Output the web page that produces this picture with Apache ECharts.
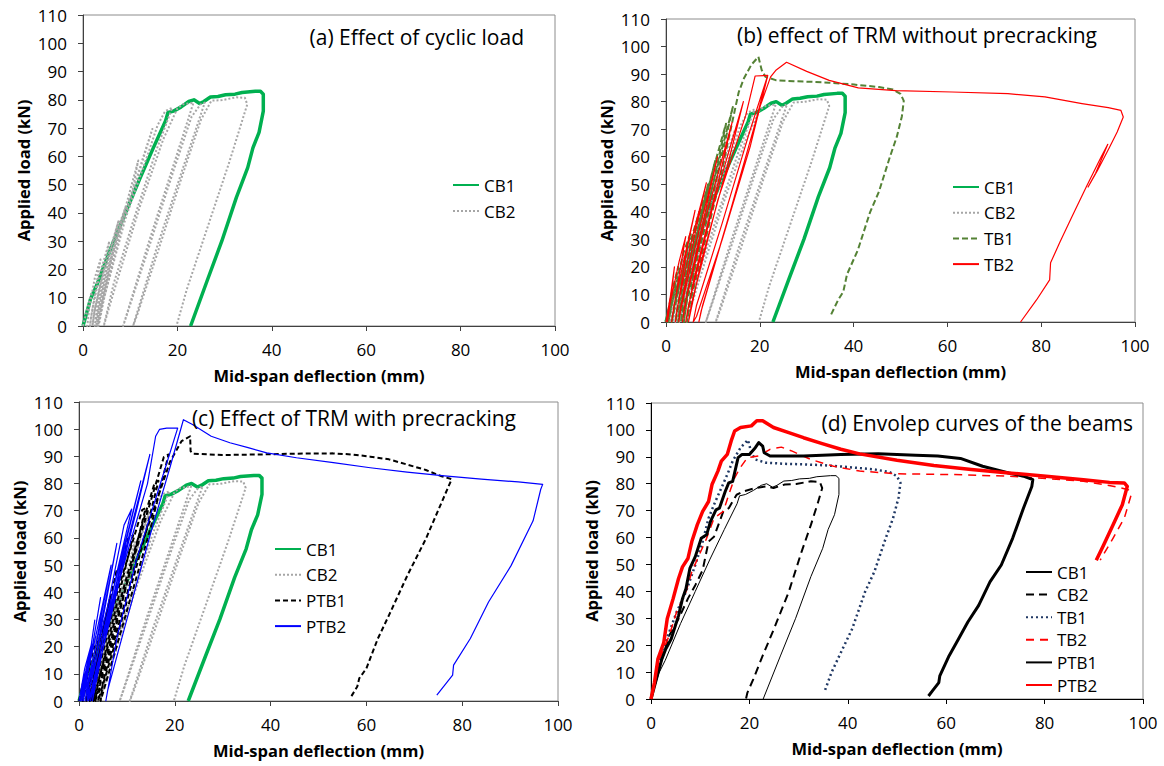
<!DOCTYPE html>
<html><head><meta charset="utf-8">
<script src="https://cdn.jsdelivr.net/npm/echarts@6/dist/echarts.min.js"></script>
<style>html,body{margin:0;padding:0;background:#fff}#c{width:1164px;height:766px}</style>
</head><body><div id="c"></div>
<script>
// ---------- data (x = mid-span deflection mm, y = applied load kN) ----------
const panelTitles = ['(a) Effect of cyclic load', '(b) effect of TRM without precracking', '(c) Effect of TRM with precracking', '(d) Envolep curves of the beams'];
const xTickValues = [0, 20, 40, 60, 80, 100];
const yTickValues = [0, 10, 20, 30, 40, 50, 60, 70, 80, 90, 100, 110];
const xAxisName = 'Mid-span deflection (mm)';
const yAxisName = 'Applied load (kN)';
const legendA = ['CB1', 'CB2'];
const legendB = ['CB1', 'CB2', 'TB1', 'TB2'];
const legendC = ['CB1', 'CB2', 'PTB1', 'PTB2'];
const legendD = ['CB1', 'CB2', 'TB1', 'TB2', 'PTB1', 'PTB2'];

const CB1 = [[0,0],[1.6,9.6],[2.9,14.4],[6,28],[9,40],[12,52],[14.9,63],[17.5,72.6],[18,75.5],[19.2,76],[20.8,77.5],[22.4,79.4],[23.5,80],[24.7,78.7],[25.6,79.4],[27,81],[28.6,81.2],[30.2,81.8],[32.2,82],[33.7,82.6],[36.5,83],[37.6,83],[38.2,82],[38.2,76],[37.3,68.5],[36,63],[34.9,56],[32.5,45.5],[29.4,30],[26.3,16],[22.8,0]];

const CB2 = [[0,0],[1.8,12],[1.2,5],[0.9,0],
[1.3,6],[2.5,17],[3.7,23.5],[2.8,14],[1.6,2],[1.5,0],
[1.9,5],[3.5,18],[5.6,30],[4.2,19],[2.4,5],[2,0],
[2.5,6],[4.5,20],[7.5,37],[5.8,26],[3.6,10],[2.5,0],
[3,7],[6,28],[9,42],[7,31],[4.2,13],[2.8,0],
[3.3,6],[7,30],[10.5,48],[11.7,58.5],[9.5,45],[6,24],[3.2,1],[3,0],
[3.6,6],[8,34],[12.8,60],[14.7,69.7],[12,55],[8,34],[4.5,10],[3.3,0],
[4,7],[9,38],[14,62],[15.8,71],[17.4,76],[18.9,77.2],[15.5,62],[11,39],[6.5,15],[4.4,0],
[6.5,12],[12,42],[17,66],[20,77],[21.2,78.4],[23.4,79],[19,56],[14,30],[8.5,0],
[9.5,5],[14,28],[19,54],[23,74],[24.9,78.4],[25.8,79],[21,55],[15.5,27],[10.6,0],
[11.5,4],[16,27],[21,53],[25,73],[27.2,79.7],[29.5,79.9],[32.5,80.9],[34.3,80.7],[34.8,78.4],[31,58],[26,33],[22,13],[19.8,0]];

const TB1 = [[0,0],[1.4,12],[2.6,20],[1.5,9],[0.5,0],
[1,5],[3.7,25],[5.2,32],[3.5,18],[1.2,0],
[1.8,6],[5,28],[7.1,40],[5.2,26],[2,0],
[2.6,7],[6.5,35],[9,50],[6.8,34],[3,6],[2.6,0],
[3.2,6],[7.5,38],[10.5,58.5],[8,42],[4,14],[3.2,0],
[3.8,6],[9,42],[12.8,72],[10,55],[5.5,22],[3.8,0],
[4.5,8],[10,46],[14.3,78.4],[11.5,60],[6.5,26],[4.5,0],
[5,6],[11,48],[15.5,83.4],[16.6,88.4],[18.2,93.4],[19.7,96.3],[20.4,91.5],[21.2,89],[23.4,87.8],[27.2,87.4],[31,87.2],[34.8,86.9],[40.1,86.2],[45.4,85.3],[48.4,84.4],[50,82.8],[50.7,80.3],[50.3,74.7],[49.2,67.2],[47.7,59.7],[45.4,47.3],[43.5,39.8],[40.9,26.1],[38.6,17.3],[37.8,11],[36.7,8],[35,2]];

const TB2 = [[0,0],[1,10],[1.8,20],[1,8],[0.3,0],
[0.8,6],[2.8,22],[4.2,31],[2.8,17],[1.2,0],
[1.7,6],[4,24],[6.2,40.5],[4.3,25],[2,0],
[2.4,5],[5.5,30],[8.6,50.5],[6.3,33],[3,4],[2.7,0],
[3.2,5],[7,33],[11,60],[8.5,41],[4.5,10],[3.5,0],
[4,6],[8.5,38],[14.1,72.5],[11,50],[6,16],[4.2,0],
[4.8,6],[10,42],[16.5,80],[13,56],[7.5,22],[4.8,0],
[5.5,7],[11,44],[17,75],[19,89.3],[21.7,89.5],[18,64],[12,30],[6.5,2],[5.8,0],
[6.5,6],[12,36],[18,70],[21.5,88.5],[19,72],[13,36],[7.5,4],[7,0],
[7.8,6],[14,42],[20,78],[22.3,89],[23.5,91.5],[25.7,94.3],[30,91],[34.8,87.7],[41,85],[49,84],[61,83.5],[72.9,82.9],[80.8,81.7],[88.7,79.3],[94.3,77.8],[97,76.8],[97.5,74.4],[96.2,69],[94.6,63.5],[92,55],[90,49],[91.6,54],[94.2,64.5],[92.8,60],[89.6,49],[86.5,38],[84,29],[82,21.5],[81.8,15.3],[79,8],[75.6,0]];

const PTB1 = [[0,0],[1,8],[2.2,15],[1.5,6],[0.8,0],
[1.2,5],[3,19],[4.1,22.3],[3,12],[1.5,0],
[2,6],[4.5,25],[5.6,31],[6.4,37.3],[4.8,24],[2.2,0],
[2.6,5],[5.5,29],[7.9,48.5],[6,33],[3.3,8],[2.6,0],
[3,5],[7,36],[10.2,59.7],[11.3,61],[9,44],[5,14],[3,0],
[3.4,6],[8,40],[13.2,70.3],[13.9,70.9],[11,50],[6.5,19],[3.4,0],
[4,7],[10,46],[15.8,80.3],[16.6,81],[13.5,59],[8,24],[4,0],
[4.5,8],[11,50],[17.7,89.7],[18.7,90.7],[15,64],[9,27],[4.5,0],
[5,7],[12,52],[19,88],[21.4,95.6],[23.2,97.4],[23.3,91.9],[23.7,91],[29.9,90.5],[37.6,90.7],[45.4,91],[53,91.1],[57,90.7],[60.8,89.9],[64.7,88.9],[68.5,87],[72.4,85],[75.5,82.8],[77.8,81.6],[76.3,75.5],[72.4,59.6],[68.5,46],[64.7,31.5],[62.4,23],[60,12],[58.5,8.3],[58.1,5.3],[56.6,1]];

const PTB2 = [[0,0],[1.2,12],[2.6,21],[1.4,8],[0.3,0],
[0.8,6],[2.5,20],[3.3,29.8],[2,14],[0.6,0],
[1,6],[3,22],[4.5,38],[2.8,20],[0.9,0],
[1.3,6],[4,28],[6.7,50],[4.5,30],[1.3,0],
[1.7,6],[5,32],[7.9,58],[5.5,35],[1.7,0],
[2,6],[6,35],[9.4,64.7],[11,70.6],[8,48],[3.5,10],[2,0],
[2.3,5],[7,40],[12.9,81],[10,60],[5,22],[2.4,0],
[2.8,6],[8,44],[14.8,90.7],[12,70],[6,28],[2.8,0],
[3.2,6],[9,48],[14.3,80],[16,97.4],[16.8,99.9],[18.3,100.4],[20.6,100.4],[17,80],[12,52],[8,24],[5.6,0],
[6,4],[10,30],[15,62],[19,86],[21.4,101],[21.8,103.5],[23.7,101.7],[27.6,97.4],[31.5,95],[35.3,93.2],[39.2,91.3],[45.4,89.5],[53.1,87.7],[60.8,85.8],[68.5,84.2],[76.3,82.8],[84,81.6],[91.7,80.6],[96.8,79.7],[96.4,77.9],[94.8,66.3],[90.2,49.8],[85.5,36.4],[81.7,23],[78.2,13.2],[78,9.5],[74.7,2.2]];

// envelope curves for panel (d)
const envCB2 = [[0,0],[1.8,12.3],[3.7,23.6],[5.6,29.8],[7.5,37.3],[9,42.3],[10.5,47.9],[11.7,58.5],[12.8,60.3],[14.7,69.7],[15.8,70.9],[17.4,75.9],[18.9,77.2],[21.2,78.4],[23.4,79],[24.9,78.4],[27.2,79.7],[29.5,79.9],[32.5,80.9],[34.3,80.7],[34.8,78.4],[34,73.4],[32.5,64.7],[30.6,54.7],[28,39.8],[25,26.1],[22.7,16.1],[20.8,7.4],[19.6,2.4],[19.3,0]];
const envTB1 = [[0,0],[0.7,4.9],[1.4,12.3],[2.6,19.8],[3.7,24.8],[5.2,32.3],[7.1,39.8],[9,49.8],[10.5,58.5],[11.7,67.2],[12.8,72.2],[14.3,78.4],[15.5,83.4],[16.6,88.4],[18.2,93.4],[19.7,96.3],[20.4,91.5],[21.2,89],[23.4,87.8],[27.2,87.4],[31,87.2],[34.8,86.9],[40.1,86.2],[45.4,85.3],[48.4,84.4],[50,82.8],[50.7,80.3],[50.3,74.7],[49.2,67.2],[47.7,59.7],[45.4,47.3],[43.5,39.8],[40.9,26.1],[38.6,17.3],[36.7,9.9],[35.2,2.4]];
const envTB2 = [[0,0],[1.1,7.4],[1.8,14.8],[3.7,23.6],[5.2,32.3],[7.1,39.8],[8.3,47.3],[9.8,53.5],[11.3,59.7],[12.8,67.2],[14.7,69.7],[15.8,75.9],[17,82.2],[18.1,85.9],[19.6,89.7],[21.9,90.3],[24.2,92.8],[26.5,93.6],[28.7,92.1],[32.5,89],[37.1,86.5],[42.4,84.7],[50,83.7],[61.3,83.4],[72.7,82.8],[80.3,81.9],[87.9,80.9],[93.9,79.1],[97,77.8],[97.6,75.9],[96.2,67.2],[93.9,59.7],[91.3,51.6]];
const envPTB1 = [[0,0],[1.1,7.4],[2.2,14.8],[3,18.6],[4.1,22.3],[5.6,31],[6.4,37.3],[7.1,41],[7.9,48.5],[9,52.9],[10.2,59.7],[11.3,61],[12.1,66],[13.2,70.3],[13.9,70.9],[15.1,77.2],[15.8,80.3],[16.6,80.9],[17.7,89.7],[18.5,90.9],[20,90.9],[21.2,93.4],[21.9,95.3],[22.7,94],[23,91.5],[24.2,90.3],[31,90.3],[38.6,90.9],[46.2,91.1],[53.8,90.6],[58.3,90.3],[62.9,89.4],[67.4,86.5],[72.7,84],[75.7,82.8],[77.6,81.5],[77.4,79],[75.7,70.9],[73.5,59.7],[71.2,49.8],[68.9,43.5],[66.6,34.8],[64.4,28.6],[62.5,22.3],[60.6,16.1],[58.7,8.6],[58.5,6.1],[57.2,3],[56.4,1.1]];
const envPTB2 = [[0,0],[0.7,6.1],[1.4,14.8],[2.6,21],[3.3,29.8],[4.5,37.3],[5.6,44.8],[6.4,49.1],[7.5,52.2],[8.3,58.5],[9.4,64.7],[10.5,69.7],[11.7,73.4],[12.4,79.7],[13.6,84.7],[14.3,88.4],[15.5,90.9],[16.3,95.9],[17,99.6],[18.2,100.9],[20.4,101.5],[21.5,103.4],[22.7,103.4],[24.9,100.9],[28,99],[31,97.1],[34.8,94.9],[38.6,92.8],[42.4,91.1],[50,88.7],[57.5,86.8],[65.1,85.3],[72.7,84],[80.3,82.8],[87.9,81.5],[93.2,80.5],[96.2,80.3],[96.8,79],[95.8,72.2],[93.9,64.7],[92,57.2],[90.5,51.6]];

// ---------- styles ----------
const FONT = 'Open Sans';
const st = {
  CB1: {color:'#00b050', width:3.5, type:'solid'},
  CB2: {color:'#a6a6a6', width:2, type:[2,2]},
  TB1: {color:'#548235', width:2, type:[6,3]},
  TB2: {color:'#ff0000', width:1.2, type:'solid'},
  PTB1:{color:'#000000', width:2, type:[5,3]},
  PTB2:{color:'#0000ff', width:1.2, type:'solid'},
  dCB1:{color:'#000000', width:1, type:'solid'},
  dCB2:{color:'#000000', width:2, type:[8,5]},
  dTB1:{color:'#203864', width:2.5, type:[2,3]},
  dTB2:{color:'#ff0000', width:1.5, type:[8,6]},
  dPTB1:{color:'#000000', width:3, type:'solid'},
  dPTB2:{color:'#ff0000', width:3.5, type:'solid'}
};

const panels = [
  {key:'a', grid:{left:83, top:15, width:472, height:311}, axisColor:'#404040', title:{right:1164-524, y:37},
   legend:{left:452, top:176, gap:8}, names:legendA, data:[CB1, CB2], styles:[st.CB1, st.CB2]},
  {key:'b', grid:{left:666, top:19, width:469, height:303}, axisColor:'#404040', title:{right:1164-1097, y:35},
   legend:{left:952, top:178, gap:7.7}, names:legendB, data:[CB1, CB2, TB1, TB2], styles:[st.CB1, st.CB2, st.TB1, st.TB2]},
  {key:'c', grid:{left:79, top:402, width:479, height:299}, axisColor:'#404040', title:{right:1164-516, y:418},
   legend:{left:274, top:540, gap:7.7}, names:legendC, data:[CB1, CB2, PTB1, PTB2], styles:[st.CB1, st.CB2, st.PTB1, st.PTB2]},
  {key:'d', grid:{left:651, top:403, width:492, height:296}, axisColor:'#000000', title:{right:1164-1133, y:423},
   legend:{left:1025, top:563, gap:4.6}, names:legendD, data:[CB1, envCB2, envTB1, envTB2, envPTB1, envPTB2],
   styles:[st.dCB1, st.dCB2, st.dTB1, st.dTB2, st.dPTB1, st.dPTB2]}
];

const option = {
  backgroundColor:'#ffffff',
  animation:false,
  textStyle:{fontFamily:FONT},
  title: panels.map((p,i)=>({text:panelTitles[i], right:p.title.right, top:p.title.y-14, padding:0,
     textStyle:{fontFamily:FONT, fontSize:21, fontWeight:'normal', color:'#000', lineHeight:28}})),
  grid: panels.map(p=>Object.assign({show:true, borderColor:'#8c8c8c', borderWidth:1, containLabel:false}, p.grid)),
  xAxis: panels.map((p,i)=>({type:'value', gridIndex:i, min:0, max:100, interval:20,
     name:xAxisName, nameLocation:'middle', nameGap:41,
     nameTextStyle:{fontFamily:FONT, fontSize:16.5, fontWeight:'bold', color:'#000'},
     axisLine:{show:true, onZero:false, lineStyle:{color:p.axisColor, width:1}},
     axisTick:{show:true, inside:false, length:5, lineStyle:{color:p.axisColor}},
     axisLabel:{fontFamily:FONT, fontSize:17, color:'#000', margin:15,
        formatter:v=>xTickValues.indexOf(v)>=0?String(v):''},
     splitLine:{show:false}})),
  yAxis: panels.map((p,i)=>({type:'value', gridIndex:i, min:0, max:110, interval:10,
     name:yAxisName, nameLocation:'middle', nameGap:51,
     nameTextStyle:{fontFamily:FONT, fontSize:16.5, fontWeight:'bold', color:'#000'},
     axisLine:{show:true, onZero:false, lineStyle:{color:p.axisColor, width:1}},
     axisTick:{show:true, inside:false, length:5, lineStyle:{color:p.axisColor}},
     axisLabel:{fontFamily:FONT, fontSize:17, color:'#000', margin:16,
        formatter:v=>yTickValues.indexOf(v)>=0?String(v):''},
     splitLine:{show:false}})),
  legend: panels.map(p=>({orient:'vertical', left:p.legend.left, top:p.legend.top, itemGap:p.legend.gap,
     itemWidth:26, itemHeight:14, selectedMode:false, padding:0,
     itemStyle:{opacity:0, borderWidth:0},
     data:p.names.map(n=>p.key+'|'+n),
     formatter:n=>n.split('|')[1],
     textStyle:{fontFamily:FONT, fontSize:17, color:'#000', lineHeight:18}})),
  series: []
};
panels.forEach((p,i)=>{
  p.names.forEach((n,j)=>{
    const s = p.styles[j];
    option.series.push({type:'line', name:p.key+'|'+n, xAxisIndex:i, yAxisIndex:i,
      data:p.data[j], symbol:'none', showSymbol:false, smooth:false, clip:true,
      lineStyle:{color:s.color, width:s.width, type:s.type, cap:'butt', join:'round'},
      itemStyle:{color:s.color}, emphasis:{disabled:true}, silent:true});
  });
});
const chart = echarts.init(document.getElementById('c'), null, {renderer:'svg'});
chart.setOption(option);
</script>
</body></html>
